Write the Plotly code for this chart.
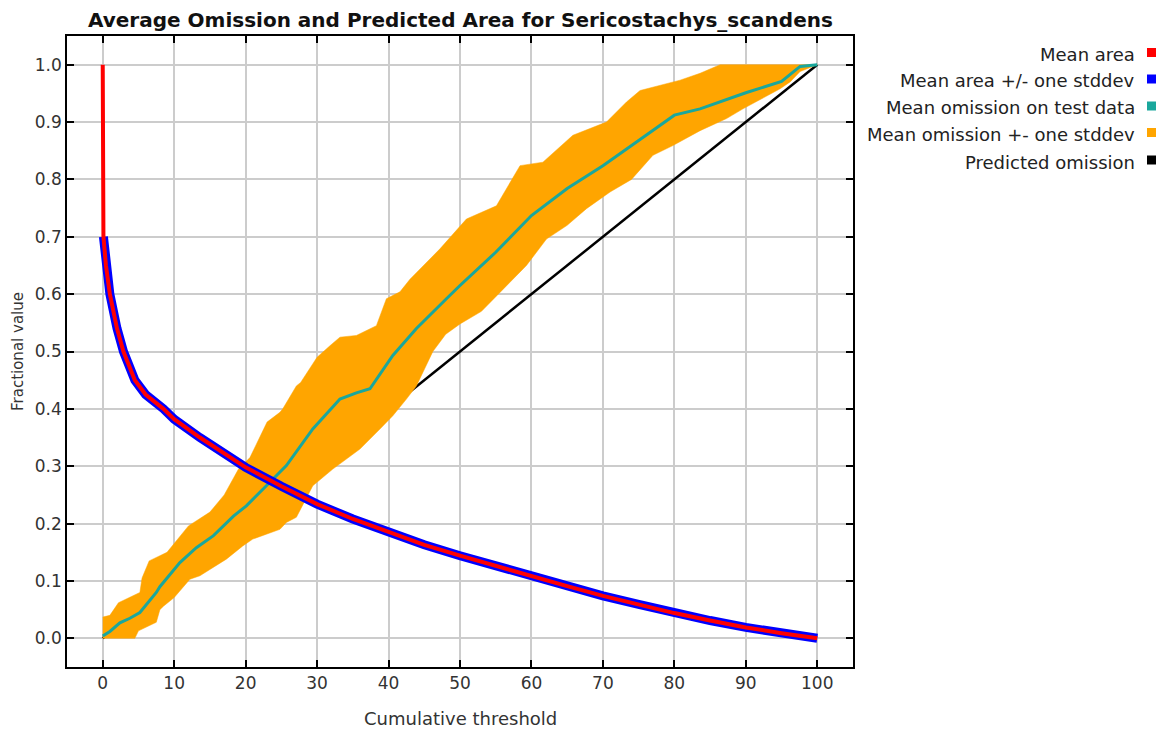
import plotly.graph_objects as go

# ---- data ----
area_x = [0, 0, 0.1, 0.45, 1.0, 2.0, 2.9, 4.5, 6.0, 8.5, 10, 13.6, 17, 20, 25, 30, 35, 40, 45, 50, 55, 60, 65, 70, 75, 80, 85, 90, 95, 100]
area_y = [1.0, 0.76, 0.70, 0.65, 0.60, 0.54, 0.50, 0.45, 0.425, 0.40, 0.382, 0.35, 0.322, 0.298, 0.265, 0.234, 0.208, 0.185, 0.163, 0.144, 0.126, 0.108, 0.091, 0.074, 0.059, 0.044, 0.031, 0.019, 0.009, 0.0]

om_x = [0, 1.0, 2.4, 3.8, 5.2, 7.5, 8.0, 10.8, 13.1, 15.5, 18.3, 20.1, 22.9, 25.7, 29.4, 33.2, 35.5, 37.4, 40.6, 43.9, 48.1, 50, 55, 60, 65, 70, 75, 80, 83.6, 90, 95, 97.6, 100]
om_y = [0.004, 0.012, 0.027, 0.035, 0.045, 0.08, 0.09, 0.132, 0.158, 0.179, 0.213, 0.231, 0.266, 0.301, 0.365, 0.417, 0.428, 0.435, 0.493, 0.54, 0.592, 0.615, 0.673, 0.737, 0.784, 0.824, 0.868, 0.912, 0.923, 0.951, 0.971, 0.997, 1.0]

om_hi_x = [0, 1.0, 2.2, 5.2, 5.5, 6.5, 9, 10, 12, 15, 17, 19, 20.6, 23, 24.8, 25.2, 27.1, 27.7, 30, 31.8, 33.2, 35.5, 38.3, 39.7, 41.6, 43, 47.2, 50.9, 55.1, 58.4, 61.6, 65.8, 70.5, 73.3, 75.2, 80.8, 83.6, 86.4, 100]
om_hi_y = [0.037, 0.04, 0.062, 0.08, 0.105, 0.135, 0.15, 0.165, 0.196, 0.22, 0.25, 0.295, 0.315, 0.377, 0.394, 0.40, 0.44, 0.446, 0.49, 0.51, 0.525, 0.528, 0.545, 0.592, 0.604, 0.626, 0.679, 0.731, 0.754, 0.824, 0.83, 0.877, 0.90, 0.935, 0.955, 0.973, 0.985, 1.0, 1.0]

om_lo_x = [0, 4.5, 5.0, 7.5, 8.0, 8.5, 10, 12.2, 13.6, 15, 17.3, 19.6, 21, 24.8, 25.7, 27.1, 29.4, 32.2, 36, 38.8, 40.6, 42.5, 43.9, 46.2, 48, 50, 53, 55.6, 59.3, 62.1, 65, 67.7, 71, 74, 77, 79.8, 83.6, 87.3, 89.6, 94.8, 96.2, 97.6, 100]
om_lo_y = [0.0, 0.0, 0.013, 0.028, 0.05, 0.056, 0.071, 0.103, 0.109, 0.12, 0.138, 0.161, 0.173, 0.19, 0.202, 0.211, 0.266, 0.295, 0.33, 0.365, 0.388, 0.417, 0.44, 0.50, 0.53, 0.548, 0.57, 0.603, 0.65, 0.696, 0.72, 0.749, 0.778, 0.80, 0.842, 0.859, 0.885, 0.906, 0.923, 0.958, 0.97, 0.988, 1.0]

pred_x = [0, 100]
pred_y = [0, 1]

legend_labels = ["Mean area", "Mean area +/- one stddev", "Mean omission on test data",
                 "Mean omission +- one stddev", "Predicted omission"]
legend_colors = ["#ff0000", "#0000ff", "#1aa79c", "#ffa500", "#000000"]

x_ticks = list(range(0, 101, 10))
y_ticks = [i / 10 for i in range(11)]

FONT = "DejaVu Sans"
OFF = 8  # page body margin in the browser

fig = go.Figure()

# predicted omission (bottom layer)
fig.add_trace(go.Scatter(x=pred_x, y=pred_y, mode="lines",
                         line=dict(color="#000000", width=2.5), hoverinfo="skip"))
# omission band (closed polygon from upper and lower bounds)
band_x = om_hi_x + om_lo_x[::-1]
band_y = om_hi_y + om_lo_y[::-1]
fig.add_trace(go.Scatter(x=band_x, y=band_y, mode="lines", fill="toself",
                         fillcolor="#ffa500", line=dict(color="#ffa500", width=0.5),
                         hoverinfo="skip"))
# mean omission
fig.add_trace(go.Scatter(x=om_x, y=om_y, mode="lines",
                         line=dict(color="#1aa79c", width=3), hoverinfo="skip"))
# mean area +/- stddev (blue band drawn as thick stroke)
fig.add_trace(go.Scatter(x=area_x[2:], y=area_y[2:], mode="lines",
                         line=dict(color="#0000ff", width=9), hoverinfo="skip"))
# mean area
fig.add_trace(go.Scatter(x=area_x, y=area_y, mode="lines",
                         line=dict(color="#ff0000", width=4), hoverinfo="skip"))

# plot-area edges in reference pixel coordinates
PL, PR, PT, PB = 67, 853, 36, 667
FW, FH = 1166, 729
L, R, T, B = PL - OFF, FW - (PR - OFF), PT - OFF, FH - (PB - OFF)
W, H = PR - PL, PB - PT

def px2paper_x(px):
    return (px - PL) / W

def px2paper_y(py):
    return (PB - py) / H

row_py = [52.5, 79, 106, 132.5, 160]
annotations = []
shapes = []
for lab, col, py in zip(legend_labels, legend_colors, row_py):
    annotations.append(dict(x=px2paper_x(1137), y=px2paper_y(py + 2), xref="paper", yref="paper",
                            text=lab, showarrow=False, xanchor="right", yanchor="middle",
                            font=dict(family=FONT, size=18, color="#222222")))
    shapes.append(dict(type="rect", xref="paper", yref="paper",
                       x0=px2paper_x(1147), x1=px2paper_x(1156),
                       y0=px2paper_y(py + 4.5), y1=px2paper_y(py - 4.5),
                       fillcolor=col, line=dict(width=0)))

# title and axis titles as text placed in paper space
annotations.append(dict(x=px2paper_x(460), y=px2paper_y(20), xref="paper", yref="paper",
                        text="<b>Average Omission and Predicted Area for Sericostachys_scandens</b>",
                        showarrow=False, xanchor="center", yanchor="middle", borderpad=0,
                        font=dict(family=FONT, size=20, color="#111111")))
annotations.append(dict(x=px2paper_x(460), y=px2paper_y(718), xref="paper", yref="paper",
                        text="Cumulative threshold", showarrow=False,
                        xanchor="center", yanchor="middle",
                        font=dict(family=FONT, size=18, color="#333333")))
annotations.append(dict(x=px2paper_x(18), y=px2paper_y(352), xref="paper", yref="paper",
                        text="Fractional value", showarrow=False, textangle=-90,
                        xanchor="center", yanchor="middle",
                        font=dict(family=FONT, size=15, color="#333333")))

axis_common = dict(showline=True, linecolor="#000000", linewidth=1.5, mirror="ticks",
                   ticks="inside", ticklen=7, tickwidth=1.5, tickcolor="#000000",
                   showgrid=True, gridcolor="#cccccc", gridwidth=1.5, zeroline=False,
                   automargin=False,
                   tickfont=dict(family=FONT, size=17, color="#333333"))

fig.update_layout(
    width=FW, height=FH,
    margin=dict(l=L, r=R, t=T, b=B, autoexpand=False),
    paper_bgcolor="#ffffff", plot_bgcolor="#ffffff",
    showlegend=False,
    xaxis=dict(range=[-5, 105], tickvals=x_ticks, ticktext=[str(v) for v in x_ticks],
               **axis_common),
    yaxis=dict(range=[-0.05, 1.05], tickvals=y_ticks, ticktext=[f"{v:.1f}" for v in y_ticks],
               **axis_common),
    annotations=annotations,
    shapes=shapes,
)

fig.write_html("out.html")
